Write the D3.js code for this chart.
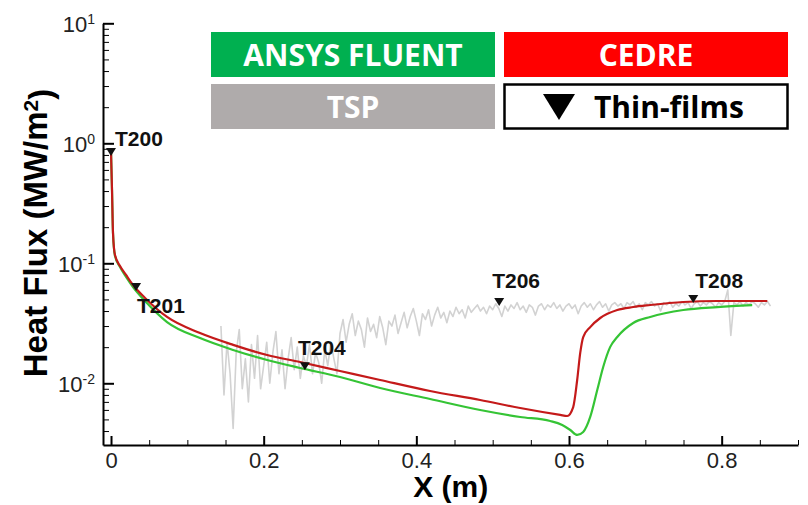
<!DOCTYPE html>
<html>
<head>
<meta charset="utf-8">
<script src="https://cdn.jsdelivr.net/npm/d3@7"></script>
<style>
  body { margin: 0; background: #fff; }
  svg { display: block; }
</style>
</head>
<body>
<div id="chart"></div>
<script>
// CEDRE (red) wall heat flux, X in m, q in MW/m2
const cedreX = [0, 0.0013, 0.0026, 0.0052, 0.0118, 0.0197, 0.0288, 0.0446, 0.0734, 0.1166, 0.160, 0.2045, 0.2477, 0.300, 0.3526, 0.418, 0.4836, 0.536, 0.5885, 0.5976, 0.6055, 0.6107, 0.6147, 0.6186, 0.6278, 0.6409, 0.6632, 0.6841, 0.7064, 0.7497, 0.7942, 0.8598];
const cedreQ = [0.846, 0.408, 0.179, 0.117, 0.0950, 0.0799, 0.0659, 0.0514, 0.0357, 0.0262, 0.0209, 0.0172, 0.01504, 0.01266, 0.01065, 0.00863, 0.00726, 0.00622, 0.00545, 0.00534, 0.00634, 0.01065, 0.0179, 0.0243, 0.0294, 0.0350, 0.0408, 0.0432, 0.0449, 0.0476, 0.0485, 0.0485];

// ANSYS FLUENT (green)
const fluentX = [0, 0.0013, 0.0026, 0.0052, 0.0118, 0.0197, 0.0288, 0.0446, 0.0734, 0.1166, 0.160, 0.2045, 0.2477, 0.300, 0.3526, 0.418, 0.4836, 0.536, 0.5754, 0.5911, 0.6016, 0.6107, 0.6186, 0.6278, 0.6370, 0.6448, 0.654, 0.6632, 0.6841, 0.7064, 0.7497, 0.7942, 0.840];
const fluentQ = [0.846, 0.408, 0.179, 0.115, 0.093, 0.0769, 0.0634, 0.0485, 0.0324, 0.0238, 0.01895, 0.01563, 0.01341, 0.01128, 0.00914, 0.00740, 0.00599, 0.00524, 0.00485, 0.00449, 0.00408, 0.00371, 0.00393, 0.00524, 0.00879, 0.01368, 0.0201, 0.0243, 0.0318, 0.0357, 0.0408, 0.0432, 0.0449];

// TSP measurement, sampled every 0.004 m from 0.144 m
const tspStart = 0.144;
const tspStep = 0.004;
const tspQ = [
  0.030, 0.008, 0.022, 0.012, 0.0042, 0.018, 0.028, 0.009, 0.016, 0.007, 0.021, 0.011, 0.025, 0.009,
  0.014, 0.022, 0.010, 0.018, 0.027, 0.012, 0.019, 0.009, 0.016, 0.024, 0.013, 0.020, 0.011, 0.017, 0.014, 0.021, 0.012, 0.018, 0.015, 0.010, 0.019, 0.014, 0.022, 0.016, 0.012,
  0.026, 0.034, 0.022, 0.031, 0.038, 0.025, 0.033, 0.028, 0.020, 0.035, 0.027, 0.031, 0.024, 0.036, 0.029, 0.021, 0.033, 0.030, 0.037, 0.026,
  0.032, 0.039, 0.029, 0.036, 0.042, 0.033, 0.025, 0.038, 0.034, 0.041, 0.030, 0.037, 0.043, 0.035, 0.039, 0.032, 0.040, 0.036, 0.043, 0.038, 0.041, 0.035, 0.044, 0.039, 0.042,
  0.045, 0.040, 0.043, 0.038, 0.044, 0.041, 0.046, 0.042, 0.036, 0.044,
  0.040, 0.045, 0.042, 0.047, 0.041, 0.044, 0.039, 0.045, 0.043, 0.037,
  0.044, 0.046, 0.041, 0.045, 0.043, 0.047, 0.042, 0.045, 0.040, 0.044,
  0.046, 0.042, 0.045, 0.038, 0.044, 0.047, 0.043, 0.046, 0.041, 0.045,
  0.048, 0.043, 0.046, 0.040, 0.045, 0.047, 0.044, 0.046, 0.042, 0.047,
  0.045, 0.048, 0.043, 0.046, 0.041, 0.047, 0.045, 0.048, 0.044, 0.046,
  0.040, 0.047, 0.045, 0.048, 0.043, 0.046, 0.044, 0.048, 0.045, 0.047,
  0.042, 0.046, 0.048, 0.044, 0.047, 0.045, 0.048, 0.046, 0.043, 0.047,
  0.045, 0.048, 0.060, 0.025, 0.047, 0.045, 0.048, 0.044, 0.047, 0.045,
  0.048, 0.046, 0.043, 0.047, 0.045, 0.048, 0.044
];

// thin-film gauges
const tfNames = ['T200', 'T201', 'T204', 'T206', 'T208'];
const tfX = [0, 0.0328, 0.254, 0.5085, 0.7628];
const tfQ = [0.846, 0.0634, 0.0139, 0.0476, 0.0504];

const xMajor = [0, 0.2, 0.4, 0.6, 0.8];
const yMajor = [0.01, 0.1, 1, 10];
const legendNames = ['ANSYS FLUENT', 'CEDRE', 'TSP', 'Thin-films'];

// label placement relative to the gauge marker (px)
const tfLabelOffset = [[4, -6], [1, 26], [-7, -11], [-7, -14], [2, -11]];

const W = 808, H = 505;
const plot = { left: 103, right: 798, top: 23.3, bottom: 445 };

const svg = d3.select('#chart').append('svg')
  .attr('width', W)
  .attr('height', H);

const x = d3.scaleLinear()
  .domain([-0.0105, 0.9])
  .range([plot.left, plot.right]);

const y = d3.scaleLog()
  .domain([0.00306, 10])
  .range([plot.bottom, plot.top]);

const line = d3.line()
  .x(d => x(d[0]))
  .y(d => y(d[1]));

// TSP
const tspData = tspQ.map((q, i) => [tspStart + i * tspStep, q]);
svg.append('path')
  .datum(tspData)
  .attr('fill', 'none')
  .attr('stroke', '#d2d2d2')
  .attr('stroke-width', 1.6)
  .attr('stroke-linejoin', 'round')
  .attr('d', line);

const smooth = d3.line()
  .x(d => x(d[0]))
  .y(d => y(d[1]))
  .curve(d3.curveMonotoneX);

svg.append('path')
  .datum(fluentX.map((v, i) => [v, fluentQ[i]]))
  .attr('fill', 'none')
  .attr('stroke', '#35c435')
  .attr('stroke-width', 2.2)
  .attr('d', smooth);

svg.append('path')
  .datum(cedreX.map((v, i) => [v, cedreQ[i]]))
  .attr('fill', 'none')
  .attr('stroke', '#c41a1a')
  .attr('stroke-width', 2.2)
  .attr('d', smooth);

// x axis: minor then major
const minorX = d3.range(0, 0.9001, 0.05).filter(v => !xMajor.some(m => Math.abs(m - v) < 1e-6));
svg.append('g')
  .attr('transform', `translate(0,${plot.bottom})`)
  .call(d3.axisBottom(x).tickValues(minorX).tickSizeInner(-5).tickSizeOuter(0).tickFormat(''))
  .call(g => g.select('.domain').remove());

const gx = svg.append('g')
  .attr('transform', `translate(0,${plot.bottom})`)
  .call(d3.axisBottom(x).tickValues(xMajor).tickSizeInner(-9).tickSizeOuter(0).tickPadding(7)
    .tickFormat(d => d === 0 ? '0' : d3.format('.1f')(d)));
gx.select('.domain').attr('stroke-width', 2);
gx.selectAll('.tick line').attr('stroke-width', 2);
gx.selectAll('.tick text')
  .style('font-family', '"Liberation Sans", Arial, sans-serif')
  .style('font-size', '22px')
  .attr('fill', '#222');

// y axis
const minorY = y.ticks().filter(v => !yMajor.some(m => Math.abs(m - v) / m < 1e-6));
svg.append('g')
  .attr('transform', `translate(${plot.left},0)`)
  .call(d3.axisLeft(y).tickValues(minorY).tickSizeInner(-6).tickSizeOuter(0).tickFormat(''))
  .call(g => g.select('.domain').remove());

const gy = svg.append('g')
  .attr('transform', `translate(${plot.left},0)`)
  .call(d3.axisLeft(y).tickValues(yMajor).tickSizeInner(-11).tickSizeOuter(0).tickPadding(8)
    .tickFormat(''));
gy.select('.domain').attr('stroke-width', 2);
gy.selectAll('.tick line').attr('stroke-width', 2);
gy.selectAll('.tick text').each(function (d) {
  const t = d3.select(this)
    .style('font-family', '"Liberation Sans", Arial, sans-serif')
    .style('font-size', '22px')
    .attr('fill', '#222')
    .attr('dy', '0.36em');
  t.append('tspan').text('10');
  t.append('tspan')
    .attr('dy', '-0.55em')
    .style('font-size', '14px')
    .text(String(Math.round(Math.log10(d))));
});

// axis titles
svg.append('text')
  .attr('x', x(0.445))
  .attr('y', 497)
  .attr('text-anchor', 'middle')
  .style('font-family', '"Liberation Sans", Arial, sans-serif')
  .style('font-weight', 'bold')
  .style('font-size', '30px')
  .text('X (m)');

const yt = svg.append('text')
  .attr('transform', 'translate(47,233) rotate(-90)')
  .attr('text-anchor', 'middle')
  .style('font-family', '"Liberation Sans", Arial, sans-serif')
  .style('font-weight', 'bold')
  .style('font-size', '33px');
yt.append('tspan').text('Heat Flux (MW/m');
yt.append('tspan').attr('dy', '-0.45em').style('font-size', '21px').text('2');
yt.append('tspan').attr('dy', '0.45em').text(')');

// thin-film markers
const tf = svg.append('g');
tfNames.forEach((name, i) => {
  const px = x(tfX[i]), py = y(tfQ[i]);
  tf.append('path')
    .attr('transform', `translate(${px},${py})`)
    .attr('d', 'M-5,-4L5,-4L0,4Z')
    .attr('fill', '#111');
  tf.append('text')
    .attr('x', px + tfLabelOffset[i][0])
    .attr('y', py + tfLabelOffset[i][1])
    .style('font-family', '"Liberation Sans", Arial, sans-serif')
    .style('font-weight', 'bold')
    .style('font-size', '21px')
    .attr('fill', '#111')
    .text(name);
});

// legend
const lg = { x0: 211, x1: 504, w: 284, y0: 32, y1: 84, h: 45 };
const legendBoxes = [
  { x: lg.x0, y: lg.y0, fill: '#00b050', color: '#fff' },
  { x: lg.x1, y: lg.y0, fill: '#ff0000', color: '#fff' },
  { x: lg.x0, y: lg.y1, fill: '#afabab', color: '#fff' },
  { x: lg.x1, y: lg.y1, fill: '#fff', color: '#000', stroke: '#000' }
];
const legend = svg.append('g');
legendBoxes.forEach((b, i) => {
  legend.append('rect')
    .attr('x', b.stroke ? b.x + 0.5 : b.x)
    .attr('y', b.stroke ? b.y + 0.5 : b.y)
    .attr('width', b.stroke ? lg.w - 1 : lg.w)
    .attr('height', b.stroke ? lg.h - 1 : lg.h)
    .attr('fill', b.fill)
    .attr('stroke', b.stroke || 'none')
    .attr('stroke-width', 2.5);
  const isTf = i === 3;
  legend.append('text')
    .attr('x', isTf ? b.x + 90 : b.x + lg.w / 2)
    .attr('y', b.y + lg.h / 2 + 11)
    .attr('text-anchor', isTf ? 'start' : 'middle')
    .style('font-family', '"Open Sans", sans-serif')
    .style('font-weight', 'bold')
    .style('font-size', '30px')
    .attr('fill', b.color)
    .text(legendNames[i]);
  if (isTf) {
    legend.append('path')
      .attr('transform', `translate(${b.x + 55},${b.y + 23})`)
      .attr('d', 'M-16,-13L16,-13L0,13Z')
      .attr('fill', '#000');
  }
});
</script>
</body>
</html>
